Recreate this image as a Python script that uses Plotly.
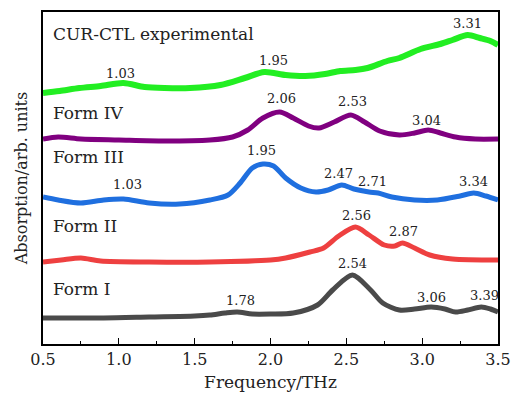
import plotly.graph_objects as go

# Frequency (THz) and absorption (arb. units, offset stacked)
exp_f = [0.50, 0.61, 0.74, 0.88, 1.03, 1.17, 1.30, 1.47, 1.67, 1.83, 1.96, 2.10, 2.23, 2.36, 2.46,
         2.56, 2.64, 2.77, 2.85, 2.99, 3.12, 3.20, 3.30, 3.38, 3.45, 3.50]
exp_a = [251, 253, 256, 258, 261, 257, 256, 256, 259, 266, 272, 269, 268, 270, 273,
         274, 276, 283, 286, 295, 300, 304, 309, 306, 303, 299]

f4_f = [0.50, 0.60, 0.75, 1.00, 1.30, 1.60, 1.75, 1.85, 1.95, 2.06, 2.15, 2.25, 2.32, 2.42, 2.53,
        2.62, 2.72, 2.85, 2.95, 3.04, 3.12, 3.22, 3.35, 3.50]
f4_a = [205, 207, 205, 204, 203, 204, 207, 214, 226, 232, 226, 218, 216, 222, 229,
        222, 213, 209, 211, 214, 211, 207, 205, 205]

f3_f = [0.50, 0.60, 0.75, 0.90, 1.03, 1.20, 1.40, 1.60, 1.72, 1.80, 1.88, 1.95, 2.02, 2.10, 2.20,
        2.30, 2.38, 2.47, 2.55, 2.65, 2.71, 2.80, 2.95, 3.10, 3.25, 3.34, 3.42, 3.50]
f3_a = [147, 144, 141, 144, 145, 141, 140, 144, 149, 161, 176, 180, 178, 166, 156,
        152, 154, 159, 155, 152, 151, 147, 144, 144, 148, 151, 148, 144]

f2_f = [0.50, 0.62, 0.75, 0.88, 1.20, 1.60, 2.00, 2.10, 2.26, 2.35, 2.45, 2.56, 2.65, 2.75, 2.82,
        2.87, 2.95, 3.05, 3.20, 3.50]
f2_a = [82, 84, 86, 83, 82, 82, 84, 86, 92, 96, 108, 117, 109, 99, 98,
        101, 96, 89, 85, 84]

f1_f = [0.50, 0.90, 1.20, 1.50, 1.60, 1.70, 1.78, 1.88, 2.00, 2.15, 2.31, 2.41, 2.54, 2.66, 2.74,
        2.85, 2.95, 3.06, 3.15, 3.22, 3.30, 3.39, 3.45, 3.50]
f1_a = [26, 26, 27, 28, 29, 31, 32, 30, 30, 31, 39, 54, 69, 54, 41,
        34, 35, 37, 35, 32, 34, 37, 35, 32]

series = [
    ("CUR-CTL experimental", exp_f, exp_a, "#22ee22", 6),
    ("Form IV", f4_f, f4_a, "#800080", 5),
    ("Form III", f3_f, f3_a, "#1f6fdf", 5),
    ("Form II", f2_f, f2_a, "#ee4040", 5),
    ("Form I", f1_f, f1_a, "#4a4a4a", 5),
]

# series name labels (x, y in data units)
name_x = [0.555, 0.555, 0.555, 0.555, 0.555]
name_y = [310, 231, 187, 118, 55]

# peak labels
peak_txt = ["1.03", "1.95", "3.31", "2.06", "2.53", "3.04", "1.03", "1.95", "2.47", "2.71", "3.34",
            "2.56", "2.87", "2.54", "1.78", "3.06", "3.39"]
peak_x = [1.01, 2.02, 3.30, 2.07, 2.54, 3.03, 1.06, 1.94, 2.45, 2.67, 3.34,
          2.57, 2.88, 2.54, 1.80, 3.06, 3.41]
peak_y = [271, 284, 321, 246, 243, 224, 160, 194, 171, 163, 163,
          129, 113, 81, 44, 47, 49]

FONT = "DejaVu Serif"

fig = go.Figure()
for name, fx, ay, col, w in series:
    fig.add_trace(go.Scatter(x=fx, y=ay, mode="lines", name=name,
                             line=dict(color=col, width=w, shape="spline", smoothing=0.8),
                             showlegend=False))

for (name, *_), x, y in zip(series, name_x, name_y):
    fig.add_annotation(x=x, y=y, text=name, showarrow=False, xanchor="left",
                       font=dict(family=FONT, size=17, color="#222"))

for t, x, y in zip(peak_txt, peak_x, peak_y):
    fig.add_annotation(x=x, y=y, text=t, showarrow=False,
                       font=dict(family=FONT, size=13, color="#222"))

fig.update_layout(
    width=511, height=396,
    margin=dict(l=43, r=13, t=12, b=52),
    paper_bgcolor="white", plot_bgcolor="white",
    font=dict(family=FONT, size=15, color="#222"),
    xaxis=dict(range=[0.5, 3.5], dtick=0.5, tick0=0.5, tickformat=".1f",
               ticks="inside", ticklen=6, tickcolor="black", automargin=False,
               minor=dict(ticks="inside", ticklen=3, dtick=0.25, tickcolor="black"),
               showline=True, linecolor="black", linewidth=1.5, mirror=True,
               showgrid=False, zeroline=False,
               title=dict(text="Frequency/THz", standoff=8, font=dict(size=17)),
               tickfont=dict(size=16)),
    yaxis=dict(range=[0, 332], showticklabels=False, ticks="", automargin=False,
               showline=True, linecolor="black", linewidth=1.5, mirror=True,
               showgrid=False, zeroline=False,
               title=dict(text="Absorption/arb. units", standoff=10, font=dict(size=16))),
)

fig.write_html("out.html", config={"displayModeBar": False},
               post_script="document.body.style.margin='0';")
